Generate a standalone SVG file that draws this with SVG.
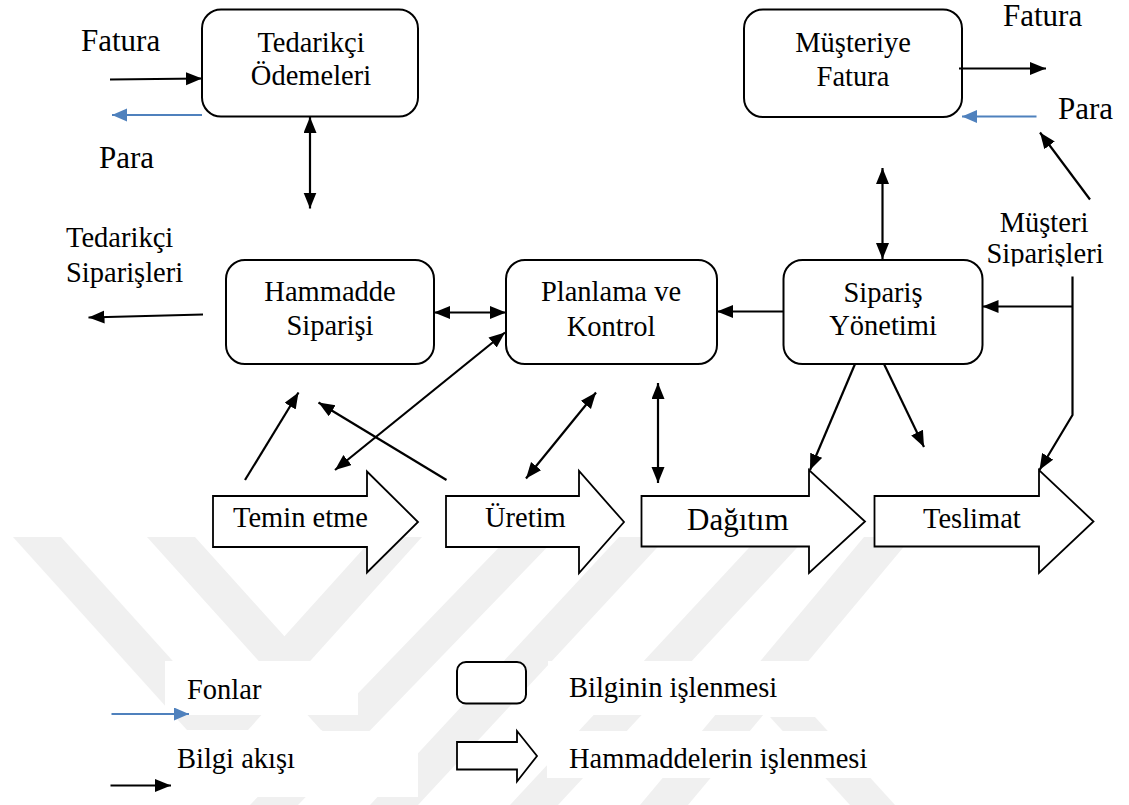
<svg xmlns="http://www.w3.org/2000/svg" width="1129" height="805" viewBox="0 0 1129 805">
  <style>
    .box { fill: #ffffff; stroke: #000000; stroke-width: 2; }
    .blk { fill: #ffffff; stroke: #000000; stroke-width: 1.8; stroke-linejoin: miter; }
    text { font-family: "Liberation Serif", "Times New Roman", Times, Tinos, "Nimbus Roman", "Nimbus Roman No9 L", "Noto Serif", "DejaVu Serif", FreeSerif, Georgia, serif; fill: #000000; }
    .t { font-size: 28.5px; }
    .tl { font-size: 31px; }
    .c { text-anchor: middle; }
    .ln { fill: none; stroke: #000000; stroke-width: 2.2; }
    .fund { fill: none; stroke: #4f81bd; stroke-width: 2.2; }
    .wm { fill: #f0f0f0; }
    .mask { fill: #ffffff; }
  </style>
  <defs>
    <marker id="ah" markerUnits="userSpaceOnUse" markerWidth="17" markerHeight="14" refX="16" refY="6.5" orient="auto-start-reverse">
      <path d="M0,0 L16,6.5 L0,13 z" fill="#000000"/>
    </marker>
    <marker id="ahb" markerUnits="userSpaceOnUse" markerWidth="17" markerHeight="14" refX="15" refY="6.5" orient="auto-start-reverse">
      <path d="M0,0 L15,6.5 L0,13 z" fill="#4f81bd"/>
    </marker>
    <clipPath id="cutOrders">
      <rect x="960" y="235" width="169" height="31.5"/>
    </clipPath>
    <clipPath id="wmArea">
      <rect x="0" y="537" width="1129" height="268"/>
    </clipPath>
  </defs>

  <rect x="0" y="0" width="1129" height="805" fill="#ffffff"/>

  <!-- faint background emblem -->
  <g id="emblem" clip-path="url(#wmArea)">
    <polygon class="wm" points="13,537 61,537 235,730 187,730"/>
    <polygon class="wm" points="200,730 248,730 422,537 374,537"/>
    <polygon class="wm" points="147,537 195,537 369,730 321,730"/>
    <polygon class="wm" points="250,805 298,805 557,537 509,537"/>
    <polygon class="wm" points="370,805 418,805 667,537 619,537"/>
    <polygon class="wm" points="510,805 558,805 807,537 759,537"/>
    <polygon class="wm" points="640,805 688,805 912,537 864,537"/>
    <polygon class="wm" points="770,717 815,717 895,805 850,805"/>
    <!-- white text panels of the legend -->
    <rect class="mask" x="165" y="661" width="193" height="54"/>
    <rect class="mask" x="548" y="661" width="269" height="54"/>
    <rect class="mask" x="170" y="731" width="248" height="66"/>
    <rect class="mask" x="547" y="731" width="333" height="47"/>
  </g>

  <!-- information processing nodes -->
  <g id="tedarikci-odemeleri">
    <rect class="box" x="202" y="9.5" width="216" height="107" rx="19"/>
    <text class="t c" x="311" y="52">Tedarikçi</text>
    <text class="t c" x="311" y="85">Ödemeleri</text>
  </g>
  <g id="musteriye-fatura">
    <rect class="box" x="744" y="9.5" width="218" height="107.5" rx="19"/>
    <text class="t c" x="853" y="52">Müşteriye</text>
    <text class="t c" x="853" y="86">Fatura</text>
  </g>
  <g id="hammadde-siparisi">
    <rect class="box" x="226" y="260" width="208" height="104" rx="19"/>
    <text class="t c" x="330" y="301">Hammadde</text>
    <text class="t c" x="330" y="335">Siparişi</text>
  </g>
  <g id="planlama-kontrol">
    <rect class="box" x="506" y="260" width="211" height="104" rx="19"/>
    <text class="t c" x="611" y="301">Planlama ve</text>
    <text class="t c" x="611" y="336">Kontrol</text>
  </g>
  <g id="siparis-yonetimi">
    <rect class="box" x="783.5" y="260" width="199" height="104" rx="19"/>
    <text class="t c" x="883" y="302">Sipariş</text>
    <text class="t c" x="883" y="335">Yönetimi</text>
  </g>

  <!-- material flow nodes -->
  <g id="temin-etme">
    <polygon class="blk" points="213,496 367,496 367,471.5 418,522 367,572.5 367,547 213,547"/>
    <text class="t" x="233" y="527">Temin etme</text>
  </g>
  <g id="uretim">
    <polygon class="blk" points="446,496 579,496 579,471 624,522 579,573 579,547 446,547"/>
    <text class="t" x="485" y="527">Üretim</text>
  </g>
  <g id="dagitim">
    <polygon class="blk" points="641.5,496 809,496 809,470 865,521.5 809,573 809,546.5 641.5,546.5"/>
    <text class="tl" x="687" y="530">Dağıtım</text>
  </g>
  <g id="teslimat">
    <polygon class="blk" points="874.5,496 1039,496 1039,470 1093.5,521.5 1039,573 1039,546.5 874.5,546.5"/>
    <text class="t" x="923" y="528">Teslimat</text>
  </g>

  <!-- outside labels -->
  <g id="labels">
    <text class="tl" x="81" y="51">Fatura</text>
    <text class="tl" x="99" y="168">Para</text>
    <text class="t" x="66" y="247">Tedarikçi</text>
    <text class="t" x="66" y="282">Siparişleri</text>
    <text class="tl" x="1003" y="26">Fatura</text>
    <text class="tl" x="1058" y="119">Para</text>
    <text class="t c" x="1044" y="232">Müşteri</text>
    <text class="t c" x="1045" y="263" clip-path="url(#cutOrders)">Siparişleri</text>
  </g>

  <!-- connectors -->
  <g id="connectors">
    <line class="ln" x1="110" y1="79.5" x2="202" y2="78.5" marker-end="url(#ah)"/>
    <line class="fund" x1="202" y1="115" x2="112" y2="115" marker-end="url(#ahb)"/>
    <line class="ln" x1="310" y1="117" x2="310" y2="208.5" marker-start="url(#ah)" marker-end="url(#ah)"/>
    <line class="ln" x1="203" y1="314.5" x2="88.5" y2="317.5" marker-end="url(#ah)"/>
    <line class="ln" x1="434" y1="312.5" x2="506" y2="312.5" marker-start="url(#ah)" marker-end="url(#ah)"/>
    <line class="ln" x1="783.5" y1="311.5" x2="717" y2="311.5" marker-end="url(#ah)"/>
    <polyline class="ln" points="1072.5,276.5 1072.5,415 1039.5,470" marker-end="url(#ah)"/>
    <line class="ln" x1="1072.5" y1="306.5" x2="982.5" y2="306.5" marker-end="url(#ah)"/>
    <line class="ln" x1="882.5" y1="168" x2="882.5" y2="259" marker-start="url(#ah)" marker-end="url(#ah)"/>
    <line class="ln" x1="959" y1="68.5" x2="1046" y2="68.5" marker-end="url(#ah)"/>
    <line class="fund" x1="1036.5" y1="116.5" x2="962" y2="116.5" marker-end="url(#ahb)"/>
    <line class="ln" x1="1090" y1="199.5" x2="1040" y2="132.5" marker-end="url(#ah)"/>
    <line class="ln" x1="855" y1="364" x2="810" y2="470" marker-end="url(#ah)"/>
    <line class="ln" x1="884" y1="364" x2="924" y2="447" marker-end="url(#ah)"/>
    <line class="ln" x1="658" y1="383" x2="658" y2="483" marker-start="url(#ah)" marker-end="url(#ah)"/>
    <line class="ln" x1="596" y1="392.5" x2="526" y2="478.5" marker-start="url(#ah)" marker-end="url(#ah)"/>
    <line class="ln" x1="505" y1="332.5" x2="335" y2="470" marker-start="url(#ah)" marker-end="url(#ah)"/>
    <line class="ln" x1="245" y1="480" x2="298.5" y2="392.5" marker-end="url(#ah)"/>
    <line class="ln" x1="446.5" y1="480" x2="318.5" y2="402.5" marker-end="url(#ah)"/>
  </g>

  <!-- legend -->
  <g id="legend">
    <line class="fund" x1="111.5" y1="714" x2="189" y2="714" marker-end="url(#ahb)"/>
    <text class="t" x="187" y="699">Fonlar</text>
    <line class="ln" x1="110.5" y1="785.5" x2="171" y2="785.5" marker-end="url(#ah)"/>
    <text class="t" x="177" y="768">Bilgi akışı</text>
    <rect class="box" x="457" y="662" width="69" height="41.5" rx="9"/>
    <text class="t" x="569" y="697">Bilginin işlenmesi</text>
    <polygon class="blk" points="457,742 517,742 517,731 537,756 517,781.5 517,769.5 457,769.5"/>
    <text class="t" x="569" y="768">Hammaddelerin işlenmesi</text>
  </g>
</svg>
